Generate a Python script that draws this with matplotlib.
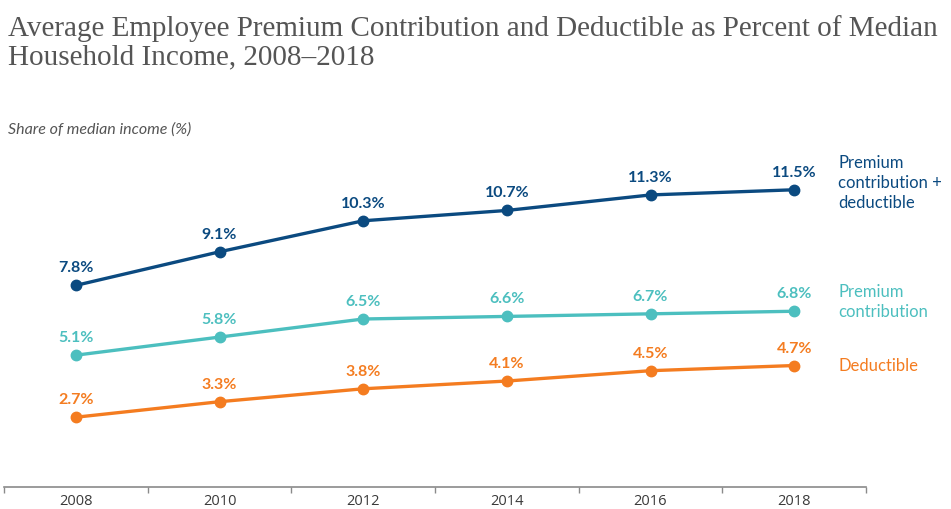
import matplotlib
matplotlib.use("Agg")
import matplotlib.pyplot as plt

years = [2008, 2010, 2012, 2014, 2016, 2018]
total = [7.8, 9.1, 10.3, 10.7, 11.3, 11.5]
premium = [5.1, 5.8, 6.5, 6.6, 6.7, 6.8]
deductible = [2.7, 3.3, 3.8, 4.1, 4.5, 4.7]

series = [
    (total, "#0b4a80", "Premium\ncontribution +\ndeductible"),
    (premium, "#4cbfbf", "Premium\ncontribution"),
    (deductible, "#f47c20", "Deductible"),
]

fig = plt.figure(figsize=(9.51, 5.09), dpi=100)
ax = fig.add_axes([4/951, 22/509, 862/951, 336/509])
ax.set_xlim(2007, 2019)
ax.set_ylim(0, 13)

for vals, col, name in series:
    ax.plot(years, vals, color=col, lw=2.4, marker="o", ms=7.5, solid_capstyle="round", clip_on=False)
    for x, v in zip(years, vals):
        ax.annotate(f"{v:.1f}%", (x, v), xytext=(0, 17), textcoords="offset pixels",
                    ha="center", va="center", fontsize=11.5, fontweight="bold",
                    color=col, family="Lato")

# right-side labels
fig.text(838/951, 1 - 183/509, series[0][2], color=series[0][1], fontsize=12,
         family="Lato", ha="left", va="center", linespacing=1.28)
fig.text(838/951, 1 - 302/509, series[1][2], color=series[1][1], fontsize=12,
         family="Lato", ha="left", va="center", linespacing=1.28)
fig.text(838/951, 1 - 366/509, series[2][2], color=series[2][1], fontsize=12,
         family="Lato", ha="left", va="center", linespacing=1.28)

for s in ["top", "right", "left"]:
    ax.spines[s].set_visible(False)
ax.spines["bottom"].set_color("#8a8a8a")
ax.spines["bottom"].set_linewidth(1.2)
ax.set_yticks([])
ax.set_xticks(years)
ax.set_xticklabels([str(y) for y in years], fontsize=10.5, color="#3a3a3a", family="Open Sans")
ax.tick_params(axis="x", which="major", length=0, pad=5)
ax.set_xticks(list(range(2007, 2020, 2)), minor=True)
ax.tick_params(axis="x", which="minor", length=4, color="#8a8a8a", width=1)

fig.text(8/951, 1 - 43/509, "Average Employee Premium Contribution and Deductible as Percent of Median\nHousehold Income, 2008\u20132018",
         fontsize=21, family="Liberation Serif", color="#555555", ha="left", va="center", linespacing=1.12)
fig.text(8/951, 1 - 130/509, "Share of median income (%)", fontsize=11.5, style="italic",
         family="Lato", color="#555555", ha="left", va="center")

fig.savefig("out.png", dpi=100)
